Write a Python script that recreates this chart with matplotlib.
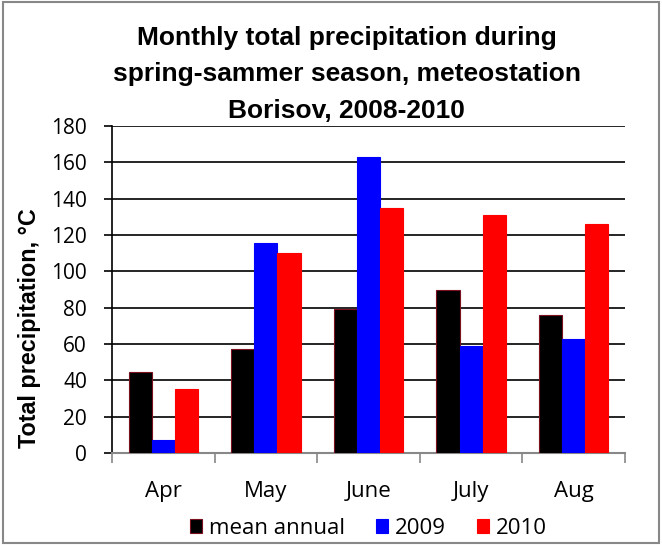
import matplotlib
matplotlib.use("Agg")
import matplotlib.pyplot as plt
import numpy as np
from matplotlib.patches import Rectangle

months = ["Apr", "May", "June", "July", "Aug"]
mean_annual = [44.5, 57, 79, 89.5, 76]
y2009 = [7, 115.5, 163, 59, 62.5]
y2010 = [35, 110, 135, 131, 126]
series_names = ["mean annual", "2009", "2010"]
yticks = [0, 20, 40, 60, 80, 100, 120, 140, 160, 180]

plt.rcParams['font.family'] = ['Liberation Sans', 'DejaVu Sans']
tickfont = ['Open Sans', 'DejaVu Sans']

fig = plt.figure(figsize=(6.62, 5.45), dpi=100)
ax = fig.add_axes([112/662, 1-453/545, (625-112)/662, (453-126)/545])

x = np.arange(len(months))
w = 0.225
ax.bar(x - w, mean_annual, w, color='black', edgecolor='#7a1020', linewidth=0.8, label=series_names[0], zorder=3)
ax.bar(x, y2009, w, color='#0000ff', edgecolor='#0000ff', linewidth=0.8, label=series_names[1], zorder=3)
ax.bar(x + w, y2010, w, color='#ff0000', edgecolor='#ff0000', linewidth=0.8, label=series_names[2], zorder=3)

ax.set_xlim(-0.5, len(months) - 0.5)
ax.set_ylim(0, 180)
ax.set_yticks(yticks)
ax.yaxis.grid(True, color='black', linewidth=1.2, zorder=0)
ax.set_axisbelow(True)
for s in ['top', 'right']:
    ax.spines[s].set_visible(False)
ax.spines['left'].set_linewidth(1.2)
ax.spines['bottom'].set_color('#888888')
ax.spines['bottom'].set_linewidth(1.5)

ax.set_xticks(np.arange(-0.5, len(months), 1.0))
ax.set_xticklabels([])
ax.set_xticks(x, minor=True)
ax.set_xticklabels(months, minor=True, fontsize=16, family=tickfont)
ax.tick_params(axis='x', which='major', length=7, width=1.2, color='#888888', direction='out')
ax.tick_params(axis='x', which='minor', length=0, pad=20)
ax.tick_params(axis='y', length=6, width=1.2, labelsize=15, pad=12)
for lab in ax.get_yticklabels():
    lab.set_family(tickfont)

ax.set_ylabel("Total precipitation, °C", fontsize=16.8, fontweight='bold')
ax.yaxis.set_label_coords(-0.138, 0.383)

fig.suptitle("Monthly total precipitation during\nspring-sammer season, meteostation\nBorisov, 2008-2010",
             fontsize=19, fontweight='bold', x=0.524, y=0.953, linespacing=1.66)

leg = ax.legend(loc='center', bbox_to_anchor=(0.5, -0.23), ncol=3, frameon=False,
                prop={'family': tickfont, 'size': 16},
                handlelength=0.55, handleheight=0.55, handletextpad=0.3, columnspacing=1.4)

fig.patches.append(Rectangle((0.004, 0.004), 0.992, 0.992, transform=fig.transFigure,
                             fill=False, edgecolor='#888888', linewidth=1.5))

fig.savefig("out.png", dpi=100)
